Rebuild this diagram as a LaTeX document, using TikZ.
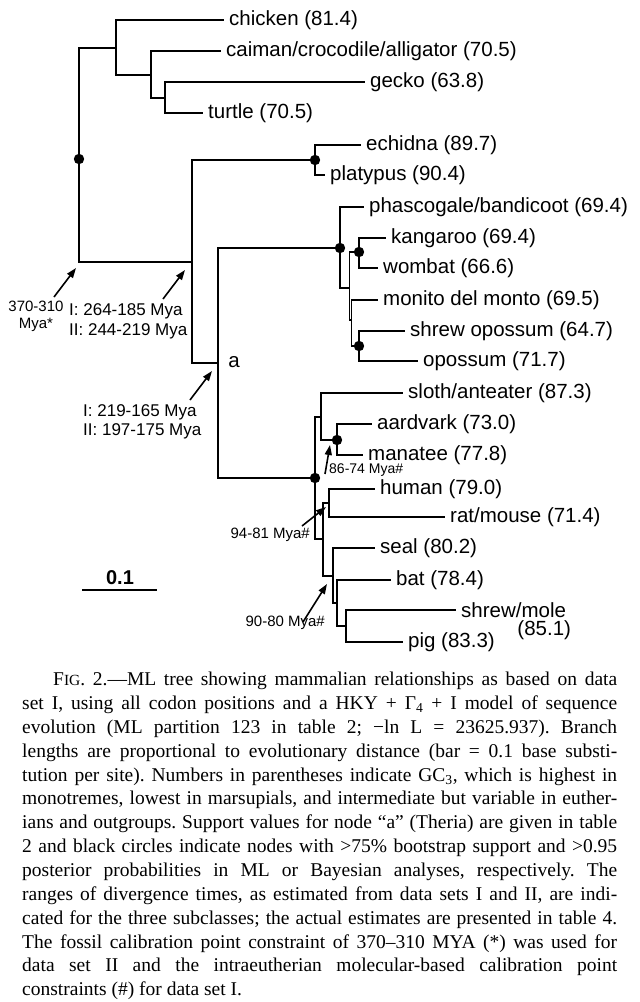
\documentclass[tikz,border=0pt]{standalone}
\usepackage{fontspec}
\setmainfont{Liberation Serif}
\newfontfamily\labfont{Liberation Sans}
\usetikzlibrary{arrows.meta}
\frenchspacing
\begin{document}
\begin{tikzpicture}[x=1pt,y=-1pt,
  br/.style={line width=1.6pt, line join=miter},
  leaf/.style={anchor=west, inner xsep=5pt, inner ysep=0pt, font=\labfont\fontsize{20.5}{24}\selectfont},
  midlab/.style={font=\labfont\fontsize{17}{19.5}\selectfont, align=left, inner sep=0pt},
  smalllab/.style={font=\labfont\fontsize{15}{17}\selectfont, inner sep=0pt},
  arr/.style={line width=1.6pt, -{Triangle[length=10pt,width=7pt]}},
]
\useasboundingbox (0,0) rectangle (640,1002);
\fill[white] (0,0) rectangle (640,1002);

% internal nodes
\coordinate (root) at (79,159);
\coordinate (o1) at (116,48);
\coordinate (o2) at (151,75);
\coordinate (o3) at (165,98);
\coordinate (mm) at (192,262);
\coordinate (mono) at (315,160);
\coordinate (theria) at (218,363);
\coordinate (mars) at (340,248);
\coordinate (m2) at (349.5,288);
\coordinate (kw) at (359,252);
\coordinate (m3) at (351.5,320);
\coordinate (so) at (359,346);
\coordinate (euth) at (315,478);
\coordinate (ax) at (321,417);
\coordinate (af) at (337,440);
\coordinate (bor) at (322.7,539);
\coordinate (ea) at (329,503);
\coordinate (laur) at (333,576);
\coordinate (l2) at (336.7,603);
\coordinate (l3) at (346,626);

% leaves
\node[leaf] (chicken) at (224,20) {chicken (81.4)};
\node[leaf] (caiman) at (221,51) {caiman/crocodile/alligator (70.5)};
\node[leaf] (gecko) at (365,82) {gecko (63.8)};
\node[leaf] (turtle) at (203,113) {turtle (70.5)};
\node[leaf] (echidna) at (361,145) {echidna (89.7)};
\node[leaf] (platypus) at (325,175) {platypus (90.4)};
\node[leaf] (phasc) at (364,207) {phascogale/bandicoot (69.4)};
\node[leaf] (kangaroo) at (386,238) {kangaroo (69.4)};
\node[leaf] (wombat) at (378,268) {wombat (66.6)};
\node[leaf] (monito) at (378,300) {monito del monto (69.5)};
\node[leaf] (shrewop) at (405,331) {shrew opossum (64.7)};
\node[leaf] (opossum) at (418,361) {opossum (71.7)};
\node[leaf] (sloth) at (403,393) {sloth/anteater (87.3)};
\node[leaf] (aardvark) at (372,424) {aardvark (73.0)};
\node[leaf] (manatee) at (363,455) {manatee (77.8)};
\node[leaf] (human) at (375,489) {human (79.0)};
\node[leaf] (rat) at (445,517) {rat/mouse (71.4)};
\node[leaf] (seal) at (375,548) {seal (80.2)};
\node[leaf] (bat) at (391,580) {bat (78.4)};
\node[leaf] (smole) at (456,610) {shrew/mole};
\node[anchor=north east, inner sep=0pt, font=\labfont\fontsize{20.5}{24}\selectfont] (smolegc) at ([yshift=-3pt]smole.south east) {(85.1)};
\node[leaf] (pig) at (403,642) {pig (83.3)};

% branches between internal nodes
\foreach \p/\c in {root/o1, root/mm, o1/o2, o2/o3, mm/mono, mm/theria,
  theria/mars, theria/euth, mars/m2, m2/kw, m2/m3, m3/so,
  euth/ax, euth/bor, ax/af, bor/ea, bor/laur, laur/l2, l2/l3}
  \draw[br] (\p) |- (\c);
% branches to leaves
\foreach \p/\c in {o1/chicken, o2/caiman, o3/gecko, o3/turtle,
  mono/echidna, mono/platypus, mars/phasc, kw/kangaroo, kw/wombat,
  m3/monito, so/shrewop, so/opossum, ax/sloth, af/aardvark, af/manatee,
  ea/human, ea/rat, laur/seal, l2/bat, l3/smole, l3/pig}
  \draw[br] (\p) |- (\c.west);

% support dots
\foreach \d in {root, mono, mars, kw, so, af, euth}
  \fill (\d) circle (5.2pt);

% node label a
\node[inner sep=0pt, font=\labfont\fontsize{20.5}{24}\selectfont] (alab) at (234,362) {a};

% divergence labels
\node[smalllab, align=center] (cal) at (36,316) {370-310\\Mya*};
\node[midlab, anchor=west] (d1) at (69,321.5) {I: 264-185 Mya\\II: 244-219 Mya};
\node[midlab, anchor=west] (d2) at (83,422) {I: 219-165 Mya\\II: 197-175 Mya};
\node[smalllab, anchor=west, font=\labfont\fontsize{14}{16}\selectfont] (c1) at (329,470.5) {86-74 Mya\#};
\node[smalllab, anchor=east] (c2) at (310,535) {94-81 Mya\#};
\node[smalllab, anchor=east] (c3) at (325,623) {90-80 Mya\#};

% arrows
\coordinate (a1t) at (54,297);  \coordinate (a1h) at (76,268);
\coordinate (a2t) at (163,299); \coordinate (a2h) at (185,270);
\coordinate (a3t) at (190,400); \coordinate (a3h) at (212,371);
\coordinate (a4t) at (325,474); \coordinate (a4h) at (330,445);
\coordinate (a5t) at (302,526); \coordinate (a5h) at (326,507);
\coordinate (a6t) at (303,622); \coordinate (a6h) at (327,584);
\foreach \i in {1,...,6}
  \draw[arr] (a\i t) -- (a\i h);

% scale bar
\node[inner sep=0pt, font=\labfont\bfseries\fontsize{20}{24}\selectfont] (sclab) at (120,578) {0.1};
\coordinate (sb1) at (82,590);
\coordinate (sb2) at (157,590);
\draw[line width=1.8pt] (sb1) -- (sb2);

% caption
\node[anchor=north west, inner sep=0pt, align=left, font=\fontsize{19.5}{23.85}\selectfont] (cap) at (22,672) {%
\makebox[595pt][s]{\hspace*{31pt}F{\fontsize{15.5}{23.85}\selectfont IG}. 2.—ML tree showing mammalian relationships as based on data}\\
\makebox[595pt][s]{set I, using all codon positions and a HKY + Γ\textsubscript{4} + I model of sequence}\\
\makebox[595pt][s]{evolution (ML partition 123 in table 2; −ln L = 23625.937). Branch}\\
\makebox[595pt][s]{lengths are proportional to evolutionary distance (bar = 0.1 base substi-}\\
\makebox[595pt][s]{tution per site). Numbers in parentheses indicate GC\textsubscript{3}, which is highest in}\\
\makebox[595pt][s]{monotremes, lowest in marsupials, and intermediate but variable in euther-}\\
\makebox[595pt][s]{ians and outgroups. Support values for node “a” (Theria) are given in table}\\
\makebox[595pt][s]{2 and black circles indicate nodes with >75\% bootstrap support and >0.95}\\
\makebox[595pt][s]{posterior probabilities in ML or Bayesian analyses, respectively. The}\\
\makebox[595pt][s]{ranges of divergence times, as estimated from data sets I and II, are indi-}\\
\makebox[595pt][s]{cated for the three subclasses; the actual estimates are presented in table 4.}\\
\makebox[595pt][s]{The fossil calibration point constraint of 370–310 MYA (*) was used for}\\
\makebox[595pt][s]{data set II and the intraeutherian molecular-based calibration point}\\
constraints (\#) for data set I.};
\end{tikzpicture}
\end{document}
